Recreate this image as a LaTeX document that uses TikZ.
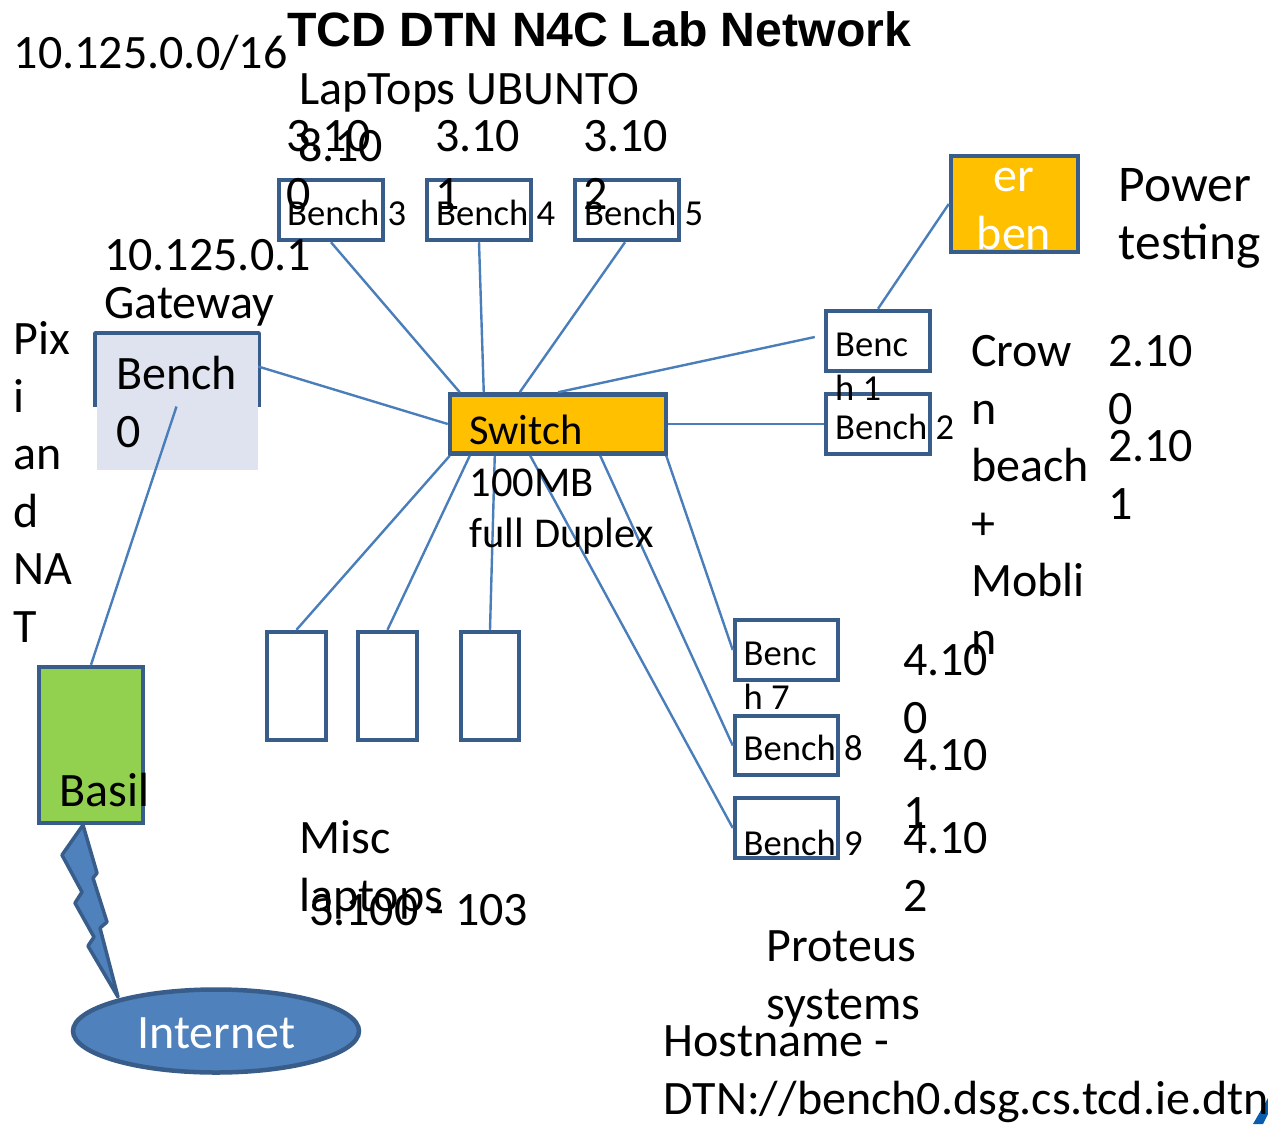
\documentclass[tikz,border=0pt]{standalone}
\usepackage{fontspec}
\usetikzlibrary{calc,shapes.geometric}
\setmainfont{Carlito}
\newfontfamily\titlefont{Liberation Sans}
\definecolor{boxline}{HTML}{385D8A}
\definecolor{wire}{HTML}{4A7EBB}
\definecolor{shapeblue}{HTML}{4F81BD}
\definecolor{switchfill}{HTML}{FFC000}
\definecolor{basilfill}{HTML}{92D050}
\definecolor{benchfill}{HTML}{DFE3F0}
\definecolor{cornerblue}{HTML}{0B5CAD}
\tikzset{
  x=1pt,y=-1pt,
  box/.style={draw=boxline,line width=4.5pt,inner sep=0pt,rectangle,minimum width=#1},
  wireline/.style={draw=wire,line width=2.4pt},
  big/.style={inner sep=0pt,anchor=base west,align=left,font=\fontsize{48}{57.5}\selectfont},
  small/.style={inner sep=0pt,anchor=base west,align=left,font=\fontsize{36.6}{44}\selectfont},
  mid/.style={inner sep=0pt,anchor=base west,align=left,font=\fontsize{42.5}{51}\selectfont}
}
\begin{document}
\begin{tikzpicture}
    \useasboundingbox (0,0) rectangle (1268,1124);
    % laptops on top
    \node [box=104pt,minimum height=60pt] (bench3) at (331,210) {};
    \node [box=104pt,minimum height=60pt] (bench4) at (479,210) {};
    \node [box=104pt,minimum height=60pt] (bench5) at (627,210) {};
    % crown beach
    \node [box=104pt,minimum height=60pt] (bench1) at (878,341) {};
    \node [box=104pt,minimum height=60pt] (bench2) at (878,424) {};
    \node [box=127pt,minimum height=96pt,fill=switchfill] (power) at (1014.5,204) {};
    % proteus
    \node [box=103pt,minimum height=60pt] (bench7) at (786.5,650) {};
    \node [box=103pt,minimum height=59pt] (bench8) at (786.5,745.5) {};
    \node [box=103pt,minimum height=60pt] (bench9) at (786.5,828) {};
    % misc
    \node [box=59pt,minimum height=108pt] (misc1) at (296.5,686) {};
    \node [box=59pt,minimum height=108pt] (misc2) at (387.5,686) {};
    \node [box=58pt,minimum height=108pt] (misc3) at (490,686) {};
    % gateway, outline is shorter than the fill
    \draw [draw=boxline,line width=4.5pt,line join=round] (95.5,407) -- (95.5,333.5) -- (258.5,333.5) -- (258.5,407);
    \node [inner sep=0pt,fill=benchfill,minimum width=161pt,minimum height=135pt] (bench0) at (177.5,402.5) {};
    \node [box=104pt,minimum height=156pt,fill=basilfill] (basil) at (91,745) {};
    \node [box=216pt,minimum height=59pt,fill=switchfill] (switch) at (558,424) {};
    \node [ellipse,draw=boxline,line width=4.5pt,fill=shapeblue,inner sep=0pt,minimum width=286pt,minimum height=83pt] (internet) at (216,1031) {};
    % wires
    \draw [wireline] (bench3.south) -- ($(switch.north west)+(12,0)$);
    \draw [wireline] (bench4.south) -- ($(switch.north west)+(36,0)$);
    \draw [wireline] ($(bench5.south)+(-2,0)$) -- ($(switch.north west)+(72,0)$);
    \draw [wireline] (switch.north) -- ($(bench1.west)+(-9,-4)$);
    \draw [wireline] (switch.east) -- (bench2.west);
    \draw [wireline] (bench1.north) -- (power.west);
    \draw [wireline] ($(bench0.east)+(0,-36)$) -- (switch.west);
    \draw [wireline] ($(bench0.center)+(-1,4)$) -- (basil.north);
    \draw [wireline] ($(switch.south west)+(2,0)$) -- (misc1.north);
    \draw [wireline] ($(switch.south west)+(22,0)$) -- (misc2.north);
    \draw [wireline] ($(switch.south west)+(47,0)$) -- (misc3.north);
    \draw [wireline] ($(switch.south east)+(-2,0)$) -- (bench7.west);
    \draw [wireline] ($(switch.south east)+(-68,0)$) -- (bench8.west);
    \draw [wireline] ($(switch.south east)+(-138,0)$) -- (bench9.west);
    % bolt to the internet
    \draw [draw=boxline,fill=shapeblue,line width=3.5pt,line join=round] (83,825) -- (62,855) -- (82,892) -- (75,903) -- (94,937) -- (88,946) -- (118,997) -- (100,928) -- (107,922) -- (93,878) -- (97,873) -- cycle;
    \fill [cornerblue] (1253,1124) -- (1268,1098) -- (1268,1114) -- (1263,1124) -- cycle;
    % texts
    \node [inner sep=0pt,anchor=base west,font=\titlefont\bfseries\fontsize{48.2}{52}\selectfont] (title) at (287,47) {TCD DTN N4C Lab Network};
    \node [big] (netlabel) at (13.5,68) {10.125.0.0/16};
    \node [big] (laplabel) at (299,104) {LapTops UBUNTO};
    \node [big] (ipA) at (286,209) {3.10\\0};
    \node [big] (ipB) at (435,209) {3.10\\1};
    \node [big] (ipC) at (583,209) {3.10\\2};
    \node [big] (ipD) at (298,161) {8.10};
    \node [small] (b3label) at (287,225) {Bench 3};
    \node [small] (b4label) at (436,225) {Bench 4};
    \node [small] (b5label) at (584,225) {Bench 5};
    \node [big,font=\fontsize{48}{48}\selectfont] (gwlabel) at (104,318) {10.125.0.1\\Gateway};
    \node [big] (pixlabel) at (13.5,642) {Pix\\i\\an\\d\\NA\\T};
    \node [big] (b0label) at (116,447) {Bench\\0};
    \node [mid] (swlabel) at (469,444) {Switch};
    \node [mid] (speed) at (469.5,547) {100MB\\full Duplex};
    \node [small] (b1label) at (835,400) {Benc\\h 1};
    \node [small] (b2label) at (835,439) {Bench 2};
    \node [big] (crown) at (971,654) {Crow\\n\\beach\\+\\Mobli\\n};
    \node [big] (ipE) at (1108,424) {2.10\\0};
    \node [big] (ipF) at (1108,519) {2.10\\1};
    \node [big,font=\fontsize{51.5}{57.5}\selectfont] (powerlabel) at (1118.5,259) {Power\\testing};
    \node [big,align=center,anchor=base,text=white] (powertxt) at (1014,249) {er\\ben};
    \node [small] (b7label) at (743.5,709) {Benc\\h 7};
    \node [small] (b8label) at (743.5,760) {Bench 8};
    \node [small] (b9label) at (743.5,855) {Bench 9};
    \node [big] (ipG) at (903,733) {4.10\\0};
    \node [big] (ipH) at (903,828) {4.10\\1};
    \node [big] (ipI) at (903,911) {4.10\\2};
    \node [big] (misclabel) at (299,911) {Misc\\laptops};
    \node [big] (miscip) at (309,925) {3.100 - 103};
    \node [big] (proteus) at (766.5,1019) {Proteus\\systems};
    \node [big] (hostname) at (663.5,1114) {Hostname -\\DTN://bench0.dsg.cs.tcd.ie.dtn};
    \node [big] (basillabel) at (59,806) {Basil};
    \node [big,text=white] (inetlabel) at (137,1048) {Internet};
\end{tikzpicture}
\end{document}
